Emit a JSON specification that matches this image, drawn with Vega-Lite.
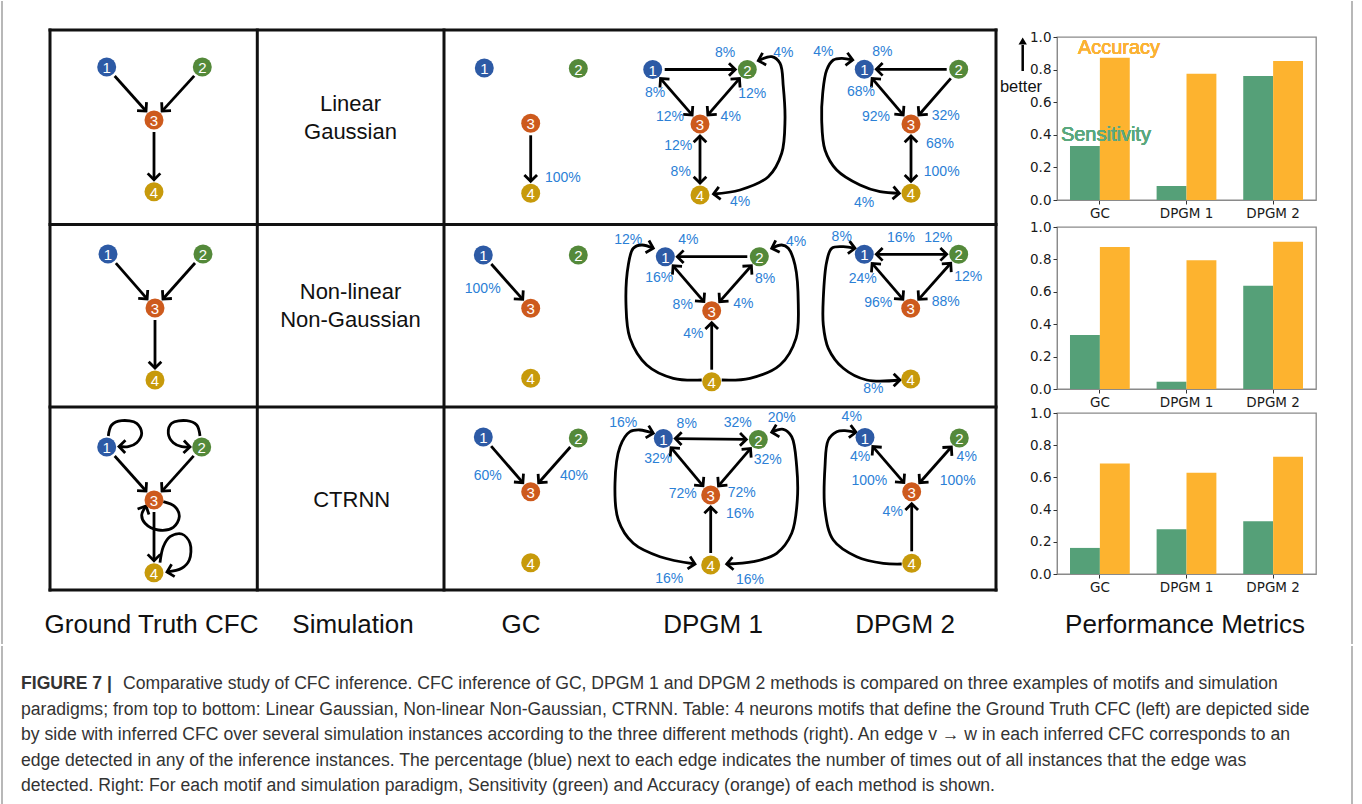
{
  "$schema": "https://vega.github.io/schema/vega-lite/v6.json",
  "padding": 0,
  "background": "white",
  "config": {"view": {"stroke": null}, "font": "Liberation Sans"},
  "datasets": {
    "frame": [{"x": 0.2}, {"x": 135.2}],
    "grid": [
      {"x": 5.0, "y": 3.0, "x2": 99.6, "y2": 3.0},
      {"x": 5.0, "y": 59.0, "x2": 99.6, "y2": 59.0},
      {"x": 5.0, "y": 3.0, "x2": 5.0, "y2": 59.0},
      {"x": 99.6, "y": 3.0, "x2": 99.6, "y2": 59.0},
      {"x": 5.0, "y": 22.45, "x2": 99.6, "y2": 22.45},
      {"x": 5.0, "y": 40.7, "x2": 99.6, "y2": 40.7},
      {"x": 25.73, "y": 3.0, "x2": 25.73, "y2": 59.0},
      {"x": 44.4, "y": 3.0, "x2": 44.4, "y2": 59.0}
    ],
    "nodes": [
      {"k": "g1-1", "n": "1", "x": 10.67, "y": 6.7}, {"k": "g1-2", "n": "2", "x": 20.23, "y": 6.7}, {"k": "g1-3", "n": "3", "x": 15.4, "y": 12.0}, {"k": "g1-4", "n": "4", "x": 15.4, "y": 19.17},
      {"k": "g2-1", "n": "1", "x": 10.8, "y": 25.4}, {"k": "g2-2", "n": "2", "x": 20.3, "y": 25.4}, {"k": "g2-3", "n": "3", "x": 15.5, "y": 30.8}, {"k": "g2-4", "n": "4", "x": 15.5, "y": 38.0},
      {"k": "g3-1", "n": "1", "x": 10.67, "y": 44.7}, {"k": "g3-2", "n": "2", "x": 20.17, "y": 44.7}, {"k": "g3-3", "n": "3", "x": 15.4, "y": 50.0}, {"k": "g3-4", "n": "4", "x": 15.4, "y": 57.27},
      {"k": "c1-1", "n": "1", "x": 48.43, "y": 6.8}, {"k": "c1-2", "n": "2", "x": 57.83, "y": 6.85}, {"k": "c1-3", "n": "3", "x": 53.07, "y": 12.33}, {"k": "c1-4", "n": "4", "x": 53.07, "y": 19.33},
      {"k": "c2-1", "n": "1", "x": 48.33, "y": 25.5}, {"k": "c2-2", "n": "2", "x": 57.83, "y": 25.5}, {"k": "c2-3", "n": "3", "x": 53.07, "y": 30.83}, {"k": "c2-4", "n": "4", "x": 53.07, "y": 37.83},
      {"k": "c3-1", "n": "1", "x": 48.33, "y": 43.7}, {"k": "c3-2", "n": "2", "x": 57.83, "y": 43.8}, {"k": "c3-3", "n": "3", "x": 53.07, "y": 49.17}, {"k": "c3-4", "n": "4", "x": 53.07, "y": 56.27},
      {"k": "a1-1", "n": "1", "x": 65.27, "y": 6.95}, {"k": "a1-2", "n": "2", "x": 74.73, "y": 6.95}, {"k": "a1-3", "n": "3", "x": 70.0, "y": 12.4}, {"k": "a1-4", "n": "4", "x": 70.0, "y": 19.5},
      {"k": "a2-1", "n": "1", "x": 66.53, "y": 25.67}, {"k": "a2-2", "n": "2", "x": 75.93, "y": 25.67}, {"k": "a2-3", "n": "3", "x": 71.17, "y": 31.07}, {"k": "a2-4", "n": "4", "x": 71.17, "y": 38.17},
      {"k": "a3-1", "n": "1", "x": 66.33, "y": 43.85}, {"k": "a3-2", "n": "2", "x": 75.83, "y": 43.95}, {"k": "a3-3", "n": "3", "x": 71.07, "y": 49.5}, {"k": "a3-4", "n": "4", "x": 71.07, "y": 56.5},
      {"k": "b1-1", "n": "1", "x": 86.43, "y": 6.93}, {"k": "b1-2", "n": "2", "x": 95.87, "y": 6.93}, {"k": "b1-3", "n": "3", "x": 91.1, "y": 12.4}, {"k": "b1-4", "n": "4", "x": 91.1, "y": 19.33},
      {"k": "b2-1", "n": "1", "x": 86.43, "y": 25.43}, {"k": "b2-2", "n": "2", "x": 95.87, "y": 25.43}, {"k": "b2-3", "n": "3", "x": 91.07, "y": 30.83}, {"k": "b2-4", "n": "4", "x": 91.07, "y": 37.9},
      {"k": "b3-1", "n": "1", "x": 86.5, "y": 43.75}, {"k": "b3-2", "n": "2", "x": 95.93, "y": 43.8}, {"k": "b3-3", "n": "3", "x": 91.17, "y": 49.17}, {"k": "b3-4", "n": "4", "x": 91.17, "y": 56.33}
    ],
    "edges": [
      {"a": "g1-1", "b": "g1-3", "h": 1}, {"a": "g1-2", "b": "g1-3", "h": 1}, {"a": "g1-3", "b": "g1-4", "h": 1},
      {"a": "g2-1", "b": "g2-3", "h": 1}, {"a": "g2-2", "b": "g2-3", "h": 1}, {"a": "g2-3", "b": "g2-4", "h": 1},
      {"a": "g3-1", "b": "g3-3", "h": 1}, {"a": "g3-2", "b": "g3-3", "h": 1}, {"a": "g3-3", "b": "g3-4", "h": 1},
      {"a": "c1-3", "b": "c1-4", "h": 1},
      {"a": "c2-1", "b": "c2-3", "h": 1},
      {"a": "c3-1", "b": "c3-3", "h": 1}, {"a": "c3-2", "b": "c3-3", "h": 1},
      {"a": "a1-1", "b": "a1-2", "h": 1}, {"a": "a1-1", "b": "a1-3", "h": 2}, {"a": "a1-2", "b": "a1-3", "h": 2}, {"a": "a1-3", "b": "a1-4", "h": 2},
      {"a": "b1-2", "b": "b1-1", "h": 1}, {"a": "b1-1", "b": "b1-3", "h": 2}, {"a": "b1-2", "b": "b1-3", "h": 1}, {"a": "b1-3", "b": "b1-4", "h": 2},
      {"a": "a2-2", "b": "a2-1", "h": 1}, {"a": "a2-1", "b": "a2-3", "h": 2}, {"a": "a2-2", "b": "a2-3", "h": 2}, {"a": "a2-4", "b": "a2-3", "h": 1},
      {"a": "b2-1", "b": "b2-2", "h": 2}, {"a": "b2-1", "b": "b2-3", "h": 2}, {"a": "b2-2", "b": "b2-3", "h": 2},
      {"a": "a3-1", "b": "a3-2", "h": 2}, {"a": "a3-1", "b": "a3-3", "h": 2}, {"a": "a3-2", "b": "a3-3", "h": 2}, {"a": "a3-4", "b": "a3-3", "h": 1},
      {"a": "b3-1", "b": "b3-3", "h": 2}, {"a": "b3-2", "b": "b3-3", "h": 2}, {"a": "b3-4", "b": "b3-3", "h": 1}
    ],
    "curves": [
      {"c": "cA", "o": 1, "x": 75.83, "y": 6.07}, {"c": "cA", "o": 2, "x": 77.17, "y": 5.67}, {"c": "cA", "o": 3, "x": 78.0, "y": 6.33}, {"c": "cA", "o": 4, "x": 78.33, "y": 8.67}, {"c": "cA", "o": 5, "x": 78.5, "y": 12.0}, {"c": "cA", "o": 6, "x": 78.17, "y": 15.33}, {"c": "cA", "o": 7, "x": 76.83, "y": 17.67}, {"c": "cA", "o": 8, "x": 74.0, "y": 19.0}, {"c": "cA", "o": 9, "x": 71.35, "y": 19.4},
      {"c": "cB", "o": 1, "x": 85.27, "y": 6.0}, {"c": "cB", "o": 2, "x": 84.17, "y": 5.83}, {"c": "cB", "o": 3, "x": 83.33, "y": 6.0}, {"c": "cB", "o": 4, "x": 82.67, "y": 7.0}, {"c": "cB", "o": 5, "x": 82.27, "y": 9.33}, {"c": "cB", "o": 6, "x": 82.17, "y": 12.0}, {"c": "cB", "o": 7, "x": 82.5, "y": 15.0}, {"c": "cB", "o": 8, "x": 83.67, "y": 17.0}, {"c": "cB", "o": 9, "x": 86.0, "y": 18.5}, {"c": "cB", "o": 10, "x": 88.0, "y": 19.17}, {"c": "cB", "o": 11, "x": 89.93, "y": 19.33},
      {"c": "cC", "o": 1, "x": 70.17, "y": 38.0}, {"c": "cC", "o": 2, "x": 67.33, "y": 37.83}, {"c": "cC", "o": 3, "x": 64.67, "y": 36.5}, {"c": "cC", "o": 4, "x": 63.0, "y": 33.83}, {"c": "cC", "o": 5, "x": 62.6, "y": 30.5}, {"c": "cC", "o": 6, "x": 62.83, "y": 26.5}, {"c": "cC", "o": 7, "x": 63.33, "y": 24.83}, {"c": "cC", "o": 8, "x": 64.17, "y": 24.5}, {"c": "cC", "o": 9, "x": 65.33, "y": 24.83},
      {"c": "cD", "o": 1, "x": 72.17, "y": 38.0}, {"c": "cD", "o": 2, "x": 75.0, "y": 37.83}, {"c": "cD", "o": 3, "x": 78.0, "y": 36.5}, {"c": "cD", "o": 4, "x": 79.6, "y": 33.83}, {"c": "cD", "o": 5, "x": 79.83, "y": 30.5}, {"c": "cD", "o": 6, "x": 79.5, "y": 26.5}, {"c": "cD", "o": 7, "x": 78.83, "y": 24.83}, {"c": "cD", "o": 8, "x": 78.17, "y": 24.5}, {"c": "cD", "o": 9, "x": 77.17, "y": 24.83},
      {"c": "cE", "o": 1, "x": 85.5, "y": 24.83}, {"c": "cE", "o": 2, "x": 84.33, "y": 24.67}, {"c": "cE", "o": 3, "x": 83.17, "y": 24.83}, {"c": "cE", "o": 4, "x": 82.67, "y": 26.17}, {"c": "cE", "o": 5, "x": 82.33, "y": 29.83}, {"c": "cE", "o": 6, "x": 82.33, "y": 32.5}, {"c": "cE", "o": 7, "x": 82.83, "y": 34.83}, {"c": "cE", "o": 8, "x": 84.33, "y": 36.83}, {"c": "cE", "o": 9, "x": 86.67, "y": 38.0}, {"c": "cE", "o": 10, "x": 90.0, "y": 38.0},
      {"c": "cF", "o": 1, "x": 65.33, "y": 43.33}, {"c": "cF", "o": 2, "x": 64.0, "y": 43.0}, {"c": "cF", "o": 3, "x": 63.0, "y": 43.17}, {"c": "cF", "o": 4, "x": 62.0, "y": 44.67}, {"c": "cF", "o": 5, "x": 61.5, "y": 48.33}, {"c": "cF", "o": 6, "x": 61.83, "y": 52.0}, {"c": "cF", "o": 7, "x": 63.33, "y": 54.33}, {"c": "cF", "o": 8, "x": 66.0, "y": 55.67}, {"c": "cF", "o": 9, "x": 69.5, "y": 56.4},
      {"c": "cG", "o": 1, "x": 77.17, "y": 43.23}, {"c": "cG", "o": 2, "x": 78.33, "y": 42.93}, {"c": "cG", "o": 3, "x": 79.17, "y": 43.67}, {"c": "cG", "o": 4, "x": 79.67, "y": 46.67}, {"c": "cG", "o": 5, "x": 79.73, "y": 50.0}, {"c": "cG", "o": 6, "x": 79.17, "y": 53.33}, {"c": "cG", "o": 7, "x": 77.67, "y": 55.33}, {"c": "cG", "o": 8, "x": 75.33, "y": 56.17}, {"c": "cG", "o": 9, "x": 72.67, "y": 56.4},
      {"c": "cH", "o": 1, "x": 90.17, "y": 56.4}, {"c": "cH", "o": 2, "x": 88.33, "y": 56.33}, {"c": "cH", "o": 3, "x": 85.67, "y": 55.67}, {"c": "cH", "o": 4, "x": 83.33, "y": 54.0}, {"c": "cH", "o": 5, "x": 82.5, "y": 51.0}, {"c": "cH", "o": 6, "x": 82.5, "y": 46.67}, {"c": "cH", "o": 7, "x": 82.83, "y": 44.0}, {"c": "cH", "o": 8, "x": 83.67, "y": 43.17}, {"c": "cH", "o": 9, "x": 84.5, "y": 43.07}, {"c": "cH", "o": 10, "x": 85.6, "y": 43.23},
      {"c": "L1", "o": 1, "x": 10.83, "y": 43.6}, {"c": "L1", "o": 2, "x": 11.17, "y": 42.5}, {"c": "L1", "o": 3, "x": 12.17, "y": 42.07}, {"c": "L1", "o": 4, "x": 13.67, "y": 42.33}, {"c": "L1", "o": 5, "x": 14.17, "y": 43.33}, {"c": "L1", "o": 6, "x": 13.67, "y": 44.27}, {"c": "L1", "o": 7, "x": 12.83, "y": 44.67}, {"c": "L1", "o": 8, "x": 11.9, "y": 44.65},
      {"c": "L2", "o": 1, "x": 20.0, "y": 43.6}, {"c": "L2", "o": 2, "x": 19.67, "y": 42.5}, {"c": "L2", "o": 3, "x": 18.67, "y": 42.07}, {"c": "L2", "o": 4, "x": 17.17, "y": 42.33}, {"c": "L2", "o": 5, "x": 16.83, "y": 43.33}, {"c": "L2", "o": 6, "x": 17.33, "y": 44.27}, {"c": "L2", "o": 7, "x": 18.17, "y": 44.67}, {"c": "L2", "o": 8, "x": 19.0, "y": 44.7},
      {"c": "L3", "o": 1, "x": 16.33, "y": 50.17}, {"c": "L3", "o": 2, "x": 17.5, "y": 50.67}, {"c": "L3", "o": 3, "x": 17.93, "y": 51.67}, {"c": "L3", "o": 4, "x": 17.33, "y": 52.73}, {"c": "L3", "o": 5, "x": 15.83, "y": 53.0}, {"c": "L3", "o": 6, "x": 14.5, "y": 52.33}, {"c": "L3", "o": 7, "x": 14.17, "y": 51.5}, {"c": "L3", "o": 8, "x": 14.6, "y": 50.6},
      {"c": "L4", "o": 1, "x": 16.0, "y": 56.27}, {"c": "L4", "o": 2, "x": 16.33, "y": 54.67}, {"c": "L4", "o": 3, "x": 17.0, "y": 53.67}, {"c": "L4", "o": 4, "x": 18.17, "y": 53.4}, {"c": "L4", "o": 5, "x": 19.0, "y": 54.33}, {"c": "L4", "o": 6, "x": 18.93, "y": 56.0}, {"c": "L4", "o": 7, "x": 18.17, "y": 56.83}, {"c": "L4", "o": 8, "x": 16.7, "y": 57.2}
    ],
    "heads": [
      {"x": 75.83, "y": 6.07, "fx": 77.17, "fy": 5.67}, {"x": 71.35, "y": 19.4, "fx": 74.0, "fy": 19.0},
      {"x": 85.27, "y": 6.0, "fx": 84.17, "fy": 5.83}, {"x": 89.93, "y": 19.33, "fx": 88.0, "fy": 19.17},
      {"x": 65.33, "y": 24.83, "fx": 64.17, "fy": 24.5},
      {"x": 77.17, "y": 24.83, "fx": 78.17, "fy": 24.5},
      {"x": 85.5, "y": 24.83, "fx": 84.33, "fy": 24.67}, {"x": 90.0, "y": 38.0, "fx": 86.67, "fy": 38.0},
      {"x": 65.33, "y": 43.33, "fx": 64.0, "fy": 43.0}, {"x": 69.5, "y": 56.4, "fx": 66.0, "fy": 55.67},
      {"x": 77.17, "y": 43.23, "fx": 78.33, "fy": 42.93}, {"x": 72.67, "y": 56.4, "fx": 75.33, "fy": 56.17},
      {"x": 85.6, "y": 43.23, "fx": 84.5, "fy": 43.07},
      {"x": 11.9, "y": 44.65, "fx": 12.83, "fy": 44.67},
      {"x": 19.0, "y": 44.7, "fx": 18.17, "fy": 44.67},
      {"x": 14.6, "y": 50.6, "fx": 14.17, "fy": 51.5},
      {"x": 16.7, "y": 57.2, "fx": 18.17, "fy": 56.83}
    ],
    "pct": [
      {"t": "100%", "x": 56.28, "y": 17.77},
      {"t": "8%", "x": 72.5, "y": 5.33}, {"t": "4%", "x": 78.33, "y": 5.33}, {"t": "8%", "x": 65.5, "y": 9.27}, {"t": "12%", "x": 75.23, "y": 9.4}, {"t": "12%", "x": 67.0, "y": 11.67}, {"t": "4%", "x": 73.07, "y": 11.67}, {"t": "12%", "x": 67.83, "y": 14.6}, {"t": "8%", "x": 68.07, "y": 17.23}, {"t": "4%", "x": 74.0, "y": 20.17},
      {"t": "4%", "x": 82.33, "y": 5.23}, {"t": "8%", "x": 88.23, "y": 5.23}, {"t": "68%", "x": 86.1, "y": 9.17}, {"t": "92%", "x": 87.6, "y": 11.7}, {"t": "32%", "x": 94.57, "y": 11.6}, {"t": "68%", "x": 94.0, "y": 14.37}, {"t": "100%", "x": 94.17, "y": 17.2}, {"t": "4%", "x": 86.4, "y": 20.27},
      {"t": "100%", "x": 48.27, "y": 28.9},
      {"t": "12%", "x": 62.83, "y": 24.0}, {"t": "4%", "x": 68.83, "y": 24.0}, {"t": "4%", "x": 79.6, "y": 24.17}, {"t": "16%", "x": 65.93, "y": 27.83}, {"t": "8%", "x": 76.5, "y": 27.9}, {"t": "8%", "x": 68.27, "y": 30.5}, {"t": "4%", "x": 74.33, "y": 30.43}, {"t": "4%", "x": 69.33, "y": 33.43},
      {"t": "8%", "x": 84.17, "y": 23.67}, {"t": "16%", "x": 90.1, "y": 23.83}, {"t": "12%", "x": 93.83, "y": 23.83}, {"t": "24%", "x": 86.27, "y": 27.9}, {"t": "12%", "x": 96.83, "y": 27.73}, {"t": "96%", "x": 87.83, "y": 30.33}, {"t": "88%", "x": 94.57, "y": 30.17}, {"t": "8%", "x": 87.33, "y": 38.93},
      {"t": "60%", "x": 48.77, "y": 47.6}, {"t": "40%", "x": 57.4, "y": 47.6},
      {"t": "16%", "x": 62.33, "y": 42.27}, {"t": "8%", "x": 68.67, "y": 42.4}, {"t": "32%", "x": 73.77, "y": 42.27}, {"t": "20%", "x": 78.17, "y": 41.83}, {"t": "32%", "x": 65.83, "y": 45.93}, {"t": "32%", "x": 76.77, "y": 46.0}, {"t": "72%", "x": 68.27, "y": 49.4}, {"t": "72%", "x": 74.17, "y": 49.33}, {"t": "16%", "x": 74.0, "y": 51.4}, {"t": "16%", "x": 66.93, "y": 57.93}, {"t": "16%", "x": 75.0, "y": 58.0},
      {"t": "4%", "x": 85.17, "y": 41.67}, {"t": "4%", "x": 86.0, "y": 45.67}, {"t": "4%", "x": 96.67, "y": 45.67}, {"t": "100%", "x": 86.93, "y": 48.1}, {"t": "100%", "x": 95.77, "y": 48.1}, {"t": "4%", "x": 89.27, "y": 51.17}
    ],
    "texts": [
      {"k": "h", "t": "Ground Truth CFC", "x": 15.15, "y": 62.5},
      {"k": "h", "t": "Simulation", "x": 35.3, "y": 62.5},
      {"k": "h", "t": "GC", "x": 52.1, "y": 62.5},
      {"k": "h", "t": "DPGM 1", "x": 71.3, "y": 62.5},
      {"k": "h", "t": "DPGM 2", "x": 90.5, "y": 62.5},
      {"k": "h", "t": "Performance Metrics", "x": 118.5, "y": 62.5},
      {"k": "r", "t": "Linear", "x": 35.05, "y": 10.4},
      {"k": "r", "t": "Gaussian", "x": 35.05, "y": 13.17},
      {"k": "r", "t": "Non-linear", "x": 35.05, "y": 29.2},
      {"k": "r", "t": "Non-Gaussian", "x": 35.05, "y": 32.0},
      {"k": "r", "t": "CTRNN", "x": 35.17, "y": 50.0},
      {"k": "s", "t": "better", "x": 102.1, "y": 8.72}
    ],
    "arrow": [{"x": 102.27, "y": 7.1, "y2": 4.5, "ty": 4.1}],
    "metrics": [
      {"panel": 1, "method": "GC", "metric": "Sensitivity", "value": 0.332},
      {"panel": 1, "method": "GC", "metric": "Accuracy", "value": 0.873},
      {"panel": 1, "method": "DPGM 1", "metric": "Sensitivity", "value": 0.086},
      {"panel": 1, "method": "DPGM 1", "metric": "Accuracy", "value": 0.775},
      {"panel": 1, "method": "DPGM 2", "metric": "Sensitivity", "value": 0.76},
      {"panel": 1, "method": "DPGM 2", "metric": "Accuracy", "value": 0.852},
      {"panel": 2, "method": "GC", "metric": "Sensitivity", "value": 0.333},
      {"panel": 2, "method": "GC", "metric": "Accuracy", "value": 0.877},
      {"panel": 2, "method": "DPGM 1", "metric": "Sensitivity", "value": 0.045},
      {"panel": 2, "method": "DPGM 1", "metric": "Accuracy", "value": 0.794},
      {"panel": 2, "method": "DPGM 2", "metric": "Sensitivity", "value": 0.638},
      {"panel": 2, "method": "DPGM 2", "metric": "Accuracy", "value": 0.909},
      {"panel": 3, "method": "GC", "metric": "Sensitivity", "value": 0.162},
      {"panel": 3, "method": "GC", "metric": "Accuracy", "value": 0.687},
      {"panel": 3, "method": "DPGM 1", "metric": "Sensitivity", "value": 0.278},
      {"panel": 3, "method": "DPGM 1", "metric": "Accuracy", "value": 0.629},
      {"panel": 3, "method": "DPGM 2", "metric": "Sensitivity", "value": 0.328},
      {"panel": 3, "method": "DPGM 2", "metric": "Accuracy", "value": 0.728}
    ],
    "caption": [
      {"line": 1, "part": "head", "text": "FIGURE 7 |"},
      {"line": 1, "part": "first", "text": "Comparative study of CFC inference. CFC inference of GC, DPGM 1 and DPGM 2 methods is compared on three examples of motifs and simulation"},
      {"line": 2, "part": "body", "text": "paradigms; from top to bottom: Linear Gaussian, Non-linear Non-Gaussian, CTRNN. Table: 4 neurons motifs that define the Ground Truth CFC (left) are depicted side"},
      {"line": 3, "part": "body", "text": "by side with inferred CFC over several simulation instances according to the three different methods (right). An edge v → w in each inferred CFC corresponds to an"},
      {"line": 4, "part": "body", "text": "edge detected in any of the inference instances. The percentage (blue) next to each edge indicates the number of times out of all instances that the edge was"},
      {"line": 5, "part": "body", "text": "detected. Right: For each motif and simulation paradigm, Sensitivity (green) and Accuracy (orange) of each method is shown."}
    ]
  },
  "vconcat": [
    {
      "hconcat": [
        {
          "width": 1000,
          "height": 645,
          "layer": [
            {
              "data": {"name": "frame"},
              "mark": {"type": "rule", "stroke": "#a0a0a0", "strokeWidth": 1.5},
              "encoding": {
                "x": {"field": "x", "type": "quantitative", "scale": {"domain": [0, 100], "nice": false, "zero": false}, "axis": null},
                "y": {"datum": 0.1, "type": "quantitative", "scale": {"domain": [0, 64.5], "nice": false, "zero": false, "reverse": true}, "axis": null},
                "y2": {"datum": 64.4}
              }
            },
            {
              "data": {"name": "grid"},
              "mark": {"type": "rule", "stroke": "#111111", "strokeWidth": 3, "strokeCap": "square"},
              "encoding": {
                "x": {"field": "x", "type": "quantitative", "scale": {"domain": [0, 100], "nice": false, "zero": false}, "axis": null},
                "y": {"field": "y", "type": "quantitative", "scale": {"domain": [0, 64.5], "nice": false, "zero": false, "reverse": true}, "axis": null},
                "x2": {"field": "x2"},
                "y2": {"field": "y2"}
              }
            },
            {
              "data": {"name": "curves"},
              "mark": {"type": "line", "interpolate": "catmull-rom", "stroke": "#000000", "strokeWidth": 2.8},
              "encoding": {
                "x": {"field": "x", "type": "quantitative", "scale": {"domain": [0, 100], "nice": false, "zero": false}, "axis": null},
                "y": {"field": "y", "type": "quantitative", "scale": {"domain": [0, 64.5], "nice": false, "zero": false, "reverse": true}, "axis": null},
                "detail": {"field": "c", "type": "nominal"},
                "order": {"field": "o", "type": "quantitative"}
              }
            },
            {
              "data": {"name": "edges"},
              "transform": [
                {"lookup": "a", "from": {"data": {"name": "nodes"}, "key": "k", "fields": ["x", "y"]}, "as": ["ax", "ay"]},
                {"lookup": "b", "from": {"data": {"name": "nodes"}, "key": "k", "fields": ["x", "y"]}, "as": ["bx", "by"]},
                {"calculate": "sqrt(pow(datum.bx - datum.ax, 2) + pow(datum.by - datum.ay, 2))", "as": "len"},
                {"calculate": "datum.ax + (datum.bx - datum.ax) / datum.len * 1.2", "as": "x1"},
                {"calculate": "datum.ay + (datum.by - datum.ay) / datum.len * 1.2", "as": "y1"},
                {"calculate": "datum.bx - (datum.bx - datum.ax) / datum.len * 1.2", "as": "x2"},
                {"calculate": "datum.by - (datum.by - datum.ay) / datum.len * 1.2", "as": "y2"},
                {"calculate": "atan2(datum.by - datum.ay, datum.bx - datum.ax) * 180 / PI", "as": "ang"},
                {"calculate": "datum.ang + 180", "as": "ang2"}
              ],
              "layer": [
                {
                  "mark": {"type": "rule", "stroke": "#000000", "strokeWidth": 2.8},
                  "encoding": {
                    "x": {"field": "x1", "type": "quantitative", "scale": {"domain": [0, 100], "nice": false, "zero": false}, "axis": null},
                    "y": {"field": "y1", "type": "quantitative", "scale": {"domain": [0, 64.5], "nice": false, "zero": false, "reverse": true}, "axis": null},
                    "x2": {"field": "x2"},
                    "y2": {"field": "y2"}
                  }
                },
                {
                  "mark": {"type": "point", "shape": "M-1,-1L0,0L-1,1", "filled": false, "stroke": "#000000", "strokeWidth": 2.8, "size": 160, "opacity": 1},
                  "encoding": {
                    "x": {"field": "x2", "type": "quantitative", "scale": {"domain": [0, 100], "nice": false, "zero": false}, "axis": null},
                    "y": {"field": "y2", "type": "quantitative", "scale": {"domain": [0, 64.5], "nice": false, "zero": false, "reverse": true}, "axis": null},
                    "angle": {"field": "ang", "type": "quantitative", "scale": null}
                  }
                },
                {
                  "transform": [{"filter": "datum.h == 2"}],
                  "mark": {"type": "point", "shape": "M-1,-1L0,0L-1,1", "filled": false, "stroke": "#000000", "strokeWidth": 2.8, "size": 160, "opacity": 1},
                  "encoding": {
                    "x": {"field": "x1", "type": "quantitative", "scale": {"domain": [0, 100], "nice": false, "zero": false}, "axis": null},
                    "y": {"field": "y1", "type": "quantitative", "scale": {"domain": [0, 64.5], "nice": false, "zero": false, "reverse": true}, "axis": null},
                    "angle": {"field": "ang2", "type": "quantitative", "scale": null}
                  }
                }
              ]
            },
            {
              "data": {"name": "heads"},
              "transform": [{"calculate": "atan2(datum.y - datum.fy, datum.x - datum.fx) * 180 / PI", "as": "ang"}],
              "mark": {"type": "point", "shape": "M-1,-1L0,0L-1,1", "filled": false, "stroke": "#000000", "strokeWidth": 2.8, "size": 160, "opacity": 1},
              "encoding": {
                "x": {"field": "x", "type": "quantitative", "scale": {"domain": [0, 100], "nice": false, "zero": false}, "axis": null},
                "y": {"field": "y", "type": "quantitative", "scale": {"domain": [0, 64.5], "nice": false, "zero": false, "reverse": true}, "axis": null},
                "angle": {"field": "ang", "type": "quantitative", "scale": null}
              }
            },
            {
              "data": {"name": "nodes"},
              "mark": {"type": "point", "shape": "circle", "filled": true, "size": 360, "opacity": 1},
              "encoding": {
                "x": {"field": "x", "type": "quantitative", "scale": {"domain": [0, 100], "nice": false, "zero": false}, "axis": null},
                "y": {"field": "y", "type": "quantitative", "scale": {"domain": [0, 64.5], "nice": false, "zero": false, "reverse": true}, "axis": null},
                "color": {"field": "n", "type": "nominal", "scale": {"domain": ["1", "2", "3", "4"], "range": ["#2d5aa5", "#54893a", "#cd5a1d", "#c79a0b"]}, "legend": null}
              }
            },
            {
              "data": {"name": "nodes"},
              "mark": {"type": "text", "color": "#ffffff", "fontSize": 15, "baseline": "middle", "align": "center", "dy": 1},
              "encoding": {
                "x": {"field": "x", "type": "quantitative", "scale": {"domain": [0, 100], "nice": false, "zero": false}, "axis": null},
                "y": {"field": "y", "type": "quantitative", "scale": {"domain": [0, 64.5], "nice": false, "zero": false, "reverse": true}, "axis": null},
                "text": {"field": "n"}
              }
            },
            {
              "data": {"name": "pct"},
              "mark": {"type": "text", "color": "#2b80d6", "fontSize": 14, "baseline": "middle", "align": "center"},
              "encoding": {
                "x": {"field": "x", "type": "quantitative", "scale": {"domain": [0, 100], "nice": false, "zero": false}, "axis": null},
                "y": {"field": "y", "type": "quantitative", "scale": {"domain": [0, 64.5], "nice": false, "zero": false, "reverse": true}, "axis": null},
                "text": {"field": "t"}
              }
            },
            {
              "data": {"name": "texts"},
              "transform": [{"filter": "datum.k == 'h'"}],
              "mark": {"type": "text", "color": "#111111", "fontSize": 26, "baseline": "middle", "align": "center"},
              "encoding": {
                "x": {"field": "x", "type": "quantitative", "scale": {"domain": [0, 100], "nice": false, "zero": false}, "axis": null},
                "y": {"field": "y", "type": "quantitative", "scale": {"domain": [0, 64.5], "nice": false, "zero": false, "reverse": true}, "axis": null},
                "text": {"field": "t"}
              }
            },
            {
              "data": {"name": "texts"},
              "transform": [{"filter": "datum.k == 'r'"}],
              "mark": {"type": "text", "color": "#111111", "fontSize": 22, "baseline": "middle", "align": "center"},
              "encoding": {
                "x": {"field": "x", "type": "quantitative", "scale": {"domain": [0, 100], "nice": false, "zero": false}, "axis": null},
                "y": {"field": "y", "type": "quantitative", "scale": {"domain": [0, 64.5], "nice": false, "zero": false, "reverse": true}, "axis": null},
                "text": {"field": "t"}
              }
            },
            {
              "data": {"name": "texts"},
              "transform": [{"filter": "datum.k == 's'"}],
              "mark": {"type": "text", "color": "#111111", "fontSize": 16.5, "baseline": "middle", "align": "center"},
              "encoding": {
                "x": {"field": "x", "type": "quantitative", "scale": {"domain": [0, 100], "nice": false, "zero": false}, "axis": null},
                "y": {"field": "y", "type": "quantitative", "scale": {"domain": [0, 64.5], "nice": false, "zero": false, "reverse": true}, "axis": null},
                "text": {"field": "t"}
              }
            },
            {
              "data": {"name": "arrow"},
              "mark": {"type": "rule", "stroke": "#000000", "strokeWidth": 2.5},
              "encoding": {
                "x": {"field": "x", "type": "quantitative", "scale": {"domain": [0, 100], "nice": false, "zero": false}, "axis": null},
                "y": {"field": "y", "type": "quantitative", "scale": {"domain": [0, 64.5], "nice": false, "zero": false, "reverse": true}, "axis": null},
                "y2": {"field": "y2"}
              }
            },
            {
              "data": {"name": "arrow"},
              "mark": {"type": "point", "shape": "triangle-up", "filled": true, "color": "#000000", "size": 70, "opacity": 1},
              "encoding": {
                "x": {"field": "x", "type": "quantitative", "scale": {"domain": [0, 100], "nice": false, "zero": false}, "axis": null},
                "y": {"field": "ty", "type": "quantitative", "scale": {"domain": [0, 64.5], "nice": false, "zero": false, "reverse": true}, "axis": null}
              }
            }
          ]
        },
        {
          "vconcat": [
            {"width": 259, "height": 37, "data": {"values": []}, "mark": "point"},
            {
              "width": 259,
              "height": 163,
              "data": {"name": "metrics"},
              "transform": [{"filter": "datum.panel == 1"}],
              "view": {"stroke": "#8a8a8a", "strokeWidth": 1.3},
              "resolve": {"axis": {"x": "independent", "y": "independent"}},
              "layer": [
                {
                  "mark": {"type": "bar"},
                  "encoding": {
                    "x": {"field": "method", "type": "nominal", "sort": ["GC", "DPGM 1", "DPGM 2"], "scale": {"paddingInner": 0.31, "paddingOuter": 0.15}, "axis": {"title": null, "labelAngle": 0, "labelFont": "DejaVu Sans", "labelFontSize": 13.5, "labelColor": "#1a1a1a", "tickColor": "#333333", "tickSize": 4, "domainColor": "#8a8a8a", "labelPadding": 2}},
                    "xOffset": {"field": "metric", "type": "nominal", "sort": ["Sensitivity", "Accuracy"]},
                    "y": {"field": "value", "type": "quantitative", "scale": {"domain": [0, 1], "nice": false}, "axis": {"title": null, "values": [0, 0.2, 0.4, 0.6, 0.8, 1], "format": ".1f", "grid": false, "labelOverlap": false, "labelFont": "DejaVu Sans", "labelFontSize": 13.5, "labelColor": "#1a1a1a", "tickColor": "#333333", "tickSize": 4, "domainColor": "#8a8a8a", "labelPadding": 2}},
                    "color": {"field": "metric", "type": "nominal", "scale": {"domain": ["Sensitivity", "Accuracy"], "range": ["#55a078", "#fdb32f"]}, "legend": null}
                  }
                },
                {
                  "mark": {"type": "text", "text": "Accuracy", "align": "left", "baseline": "middle", "fontSize": 20, "color": "#fbb234", "dx": -22},
                  "encoding": {
                    "x": {"datum": "GC", "type": "nominal", "axis": null},
                    "y": {"datum": 0.933, "type": "quantitative", "axis": null}
                  }
                },
                {
                  "mark": {"type": "text", "text": "Sensitivity", "align": "left", "baseline": "middle", "fontSize": 20, "color": "#5aa87e", "dx": -39},
                  "encoding": {
                    "x": {"datum": "GC", "type": "nominal", "axis": null},
                    "y": {"datum": 0.4, "type": "quantitative", "axis": null}
                  }
                }
              ]
            },
            {"width": 259, "height": 27, "data": {"values": []}, "mark": "point"},
            {
              "width": 259,
              "height": 162,
              "data": {"name": "metrics"},
              "transform": [{"filter": "datum.panel == 2"}],
              "view": {"stroke": "#8a8a8a", "strokeWidth": 1.3},
              "mark": {"type": "bar"},
              "encoding": {
                "x": {"field": "method", "type": "nominal", "sort": ["GC", "DPGM 1", "DPGM 2"], "scale": {"paddingInner": 0.31, "paddingOuter": 0.15}, "axis": {"title": null, "labelAngle": 0, "labelFont": "DejaVu Sans", "labelFontSize": 13.5, "labelColor": "#1a1a1a", "tickColor": "#333333", "tickSize": 4, "domainColor": "#8a8a8a", "labelPadding": 2}},
                "xOffset": {"field": "metric", "type": "nominal", "sort": ["Sensitivity", "Accuracy"]},
                "y": {"field": "value", "type": "quantitative", "scale": {"domain": [0, 1], "nice": false}, "axis": {"title": null, "values": [0, 0.2, 0.4, 0.6, 0.8, 1], "format": ".1f", "grid": false, "labelOverlap": false, "labelFont": "DejaVu Sans", "labelFontSize": 13.5, "labelColor": "#1a1a1a", "tickColor": "#333333", "tickSize": 4, "domainColor": "#8a8a8a", "labelPadding": 2}},
                "color": {"field": "metric", "type": "nominal", "scale": {"domain": ["Sensitivity", "Accuracy"], "range": ["#55a078", "#fdb32f"]}, "legend": null}
              }
            },
            {"width": 259, "height": 24, "data": {"values": []}, "mark": "point"},
            {
              "width": 259,
              "height": 161,
              "data": {"name": "metrics"},
              "transform": [{"filter": "datum.panel == 3"}],
              "view": {"stroke": "#8a8a8a", "strokeWidth": 1.3},
              "mark": {"type": "bar"},
              "encoding": {
                "x": {"field": "method", "type": "nominal", "sort": ["GC", "DPGM 1", "DPGM 2"], "scale": {"paddingInner": 0.31, "paddingOuter": 0.15}, "axis": {"title": null, "labelAngle": 0, "labelFont": "DejaVu Sans", "labelFontSize": 13.5, "labelColor": "#1a1a1a", "tickColor": "#333333", "tickSize": 4, "domainColor": "#8a8a8a", "labelPadding": 2}},
                "xOffset": {"field": "metric", "type": "nominal", "sort": ["Sensitivity", "Accuracy"]},
                "y": {"field": "value", "type": "quantitative", "scale": {"domain": [0, 1], "nice": false}, "axis": {"title": null, "values": [0, 0.2, 0.4, 0.6, 0.8, 1], "format": ".1f", "grid": false, "labelOverlap": false, "labelFont": "DejaVu Sans", "labelFontSize": 13.5, "labelColor": "#1a1a1a", "tickColor": "#333333", "tickSize": 4, "domainColor": "#8a8a8a", "labelPadding": 2}},
                "color": {"field": "metric", "type": "nominal", "scale": {"domain": ["Sensitivity", "Accuracy"], "range": ["#55a078", "#fdb32f"]}, "legend": null}
              }
            }
          ],
          "spacing": 0,
          "bounds": "flush",
          "resolve": {"scale": {"x": "independent", "y": "independent"}}
        }
      ],
      "spacing": 57,
      "bounds": "flush",
      "resolve": {"scale": {"x": "independent", "y": "independent", "color": "independent"}}
    },
    {
      "width": 1362,
      "height": 159,
      "data": {"name": "caption"},
      "layer": [
        {
          "data": {"name": "frame"},
          "mark": {"type": "rule", "stroke": "#a0a0a0", "strokeWidth": 1.5},
          "encoding": {
            "x": {"field": "x", "type": "quantitative", "scale": {"domain": [0, 136.2], "nice": false, "zero": false}, "axis": null},
            "y": {"datum": -0.49, "type": "quantitative", "scale": {"domain": [-0.53, 5.706], "nice": false, "zero": false, "reverse": true}, "axis": null},
            "y2": {"datum": 5.706}
          }
        },
        {
          "transform": [{"filter": "datum.part == 'body'"}],
          "mark": {"type": "text", "align": "left", "baseline": "middle", "fontSize": 17.6, "color": "#333333"},
          "encoding": {
            "x": {"datum": 2.1, "type": "quantitative", "scale": {"domain": [0, 136.2], "nice": false, "zero": false}, "axis": null},
            "y": {"field": "line", "type": "quantitative", "scale": {"domain": [-0.53, 5.706], "nice": false, "zero": false, "reverse": true}, "axis": null},
            "text": {"field": "text"}
          }
        },
        {
          "transform": [{"filter": "datum.part == 'first'"}],
          "mark": {"type": "text", "align": "left", "baseline": "middle", "fontSize": 17.6, "color": "#333333"},
          "encoding": {
            "x": {"datum": 12.3, "type": "quantitative", "scale": {"domain": [0, 136.2], "nice": false, "zero": false}, "axis": null},
            "y": {"field": "line", "type": "quantitative", "scale": {"domain": [-0.53, 5.706], "nice": false, "zero": false, "reverse": true}, "axis": null},
            "text": {"field": "text"}
          }
        },
        {
          "transform": [{"filter": "datum.part == 'head'"}],
          "mark": {"type": "text", "align": "left", "baseline": "middle", "fontSize": 17.6, "fontWeight": "bold", "color": "#333333"},
          "encoding": {
            "x": {"datum": 2.1, "type": "quantitative", "scale": {"domain": [0, 136.2], "nice": false, "zero": false}, "axis": null},
            "y": {"field": "line", "type": "quantitative", "scale": {"domain": [-0.53, 5.706], "nice": false, "zero": false, "reverse": true}, "axis": null},
            "text": {"field": "text"}
          }
        }
      ]
    }
  ],
  "spacing": 0,
  "resolve": {"scale": {"x": "independent", "y": "independent", "color": "independent"}}
}
